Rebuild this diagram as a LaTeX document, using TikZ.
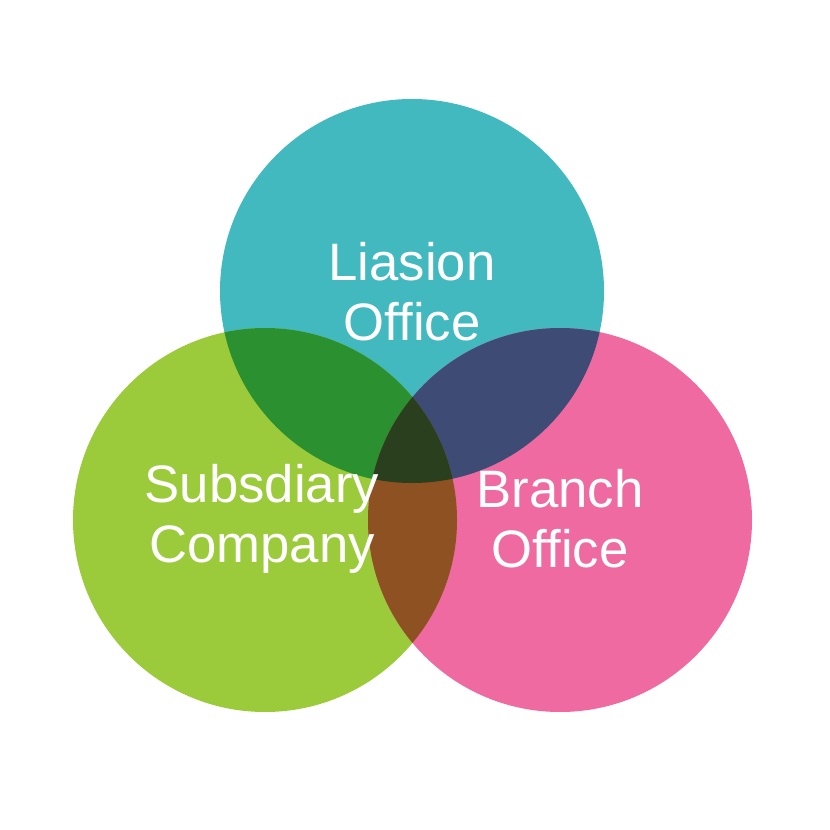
\documentclass[tikz,border=0pt]{standalone}
\usepackage{fontspec}
\setmainfont{Liberation Sans}
\definecolor{teal}{HTML}{42B8BF}
\definecolor{lime}{HTML}{9BCB3B}
\definecolor{pink}{HTML}{EF6AA0}
\definecolor{tealLime}{HTML}{2A9030}
\definecolor{tealPink}{HTML}{3D4B75}
\definecolor{limePink}{HTML}{8E5222}
\definecolor{allThree}{HTML}{2A3F1E}
\begin{document}
\begin{tikzpicture}[x=0.02cm,y=-0.02cm,
  lbl/.style={text=white,align=center,font=\fontsize{30}{34}\selectfont}]
\useasboundingbox (0,0) rectangle (830,830);

\coordinate (cT) at (412,291);
\coordinate (cL) at (265,520);
\coordinate (cR) at (560,520);

\fill[teal] (cT) circle (192);
\fill[lime] (cL) circle (192);
\fill[pink] (cR) circle (192);
\begin{scope}
\clip (cT) circle (192);
\fill[tealLime] (cL) circle (192);
\fill[tealPink] (cR) circle (192);
\end{scope}
\begin{scope}
\clip (cL) circle (192);
\fill[limePink] (cR) circle (192);
\clip (cR) circle (192);
\fill[allThree] (cT) circle (192);
\end{scope}

\node[lbl] (liasion) at (412,292) {Liasion\\Office};
\node[lbl] (subsidiary) at (262,519) {Subsdiary\\Company};
\node[lbl] (branch) at (560,519) {Branch\\Office};
\end{tikzpicture}
\end{document}
